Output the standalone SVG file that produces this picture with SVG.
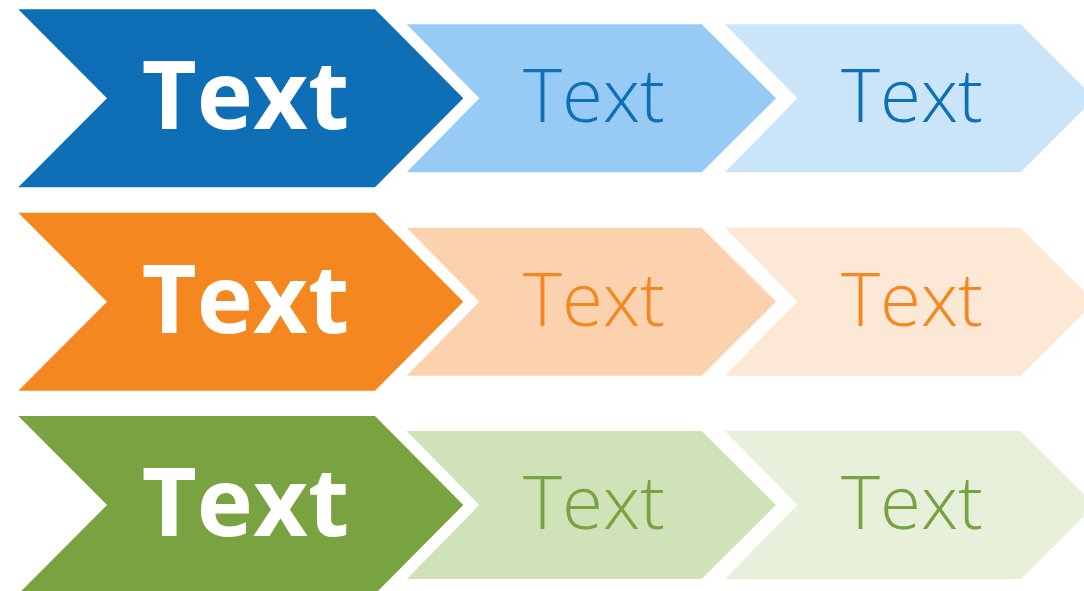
<svg xmlns="http://www.w3.org/2000/svg" width="1084" height="591" viewBox="0 0 1084 591">
<defs>
<style>
.big{font-family:"Open Sans","Noto Sans","Liberation Sans",sans-serif;font-weight:700;font-size:95px;fill:#ffffff;text-anchor:middle}
.sm{font-family:"Open Sans","Noto Sans","Liberation Sans",sans-serif;font-weight:300;font-size:74.5px;text-anchor:middle}
</style>
<path id="bigChev" d="M18.3,-89 L375,-89 L463.3,0 L375,89 L18.3,89 L107,0 Z"/>
<path id="midChev" d="M406.7,-74 L701.7,-74 L776,0 L701.7,74 L406.7,74 L479.3,0 Z"/>
<path id="lightChev" d="M725,-74 L1020.7,-74 L1094.7,0 L1020.7,74 L725,74 L797.3,0 Z"/>
</defs>
<rect width="1084" height="591" fill="#ffffff"/>
<g id="connectors"></g>
<g id="row-blue" transform="translate(0,98.3)">
<g id="blue-1"><use href="#bigChev" fill="#0E6FB7"/><text class="big" x="245.5" y="31">Text</text></g>
<g id="blue-2"><use href="#midChev" fill="#97CBF5"/><text class="sm" x="594" y="24" fill="#0E6FB7">Text</text></g>
<g id="blue-3"><use href="#lightChev" fill="#CAE5F9"/><text class="sm" x="912" y="24" fill="#0E6FB7">Text</text></g>
</g>
<g id="row-orange" transform="translate(0,301.7)">
<g id="orange-1"><use href="#bigChev" fill="#F58720"/><text class="big" x="245.5" y="31">Text</text></g>
<g id="orange-2"><use href="#midChev" fill="#FBD1AE"/><text class="sm" x="594" y="24" fill="#F58720">Text</text></g>
<g id="orange-3"><use href="#lightChev" fill="#FDE8D5"/><text class="sm" x="912" y="24" fill="#F58720">Text</text></g>
</g>
<g id="row-green" transform="translate(0,505)">
<g id="green-1"><use href="#bigChev" fill="#79A341"/><text class="big" x="245.5" y="31">Text</text></g>
<g id="green-2"><use href="#midChev" fill="#D0E3B8"/><text class="sm" x="594" y="24" fill="#79A341">Text</text></g>
<g id="green-3"><use href="#lightChev" fill="#E6F0DB"/><text class="sm" x="912" y="24" fill="#79A341">Text</text></g>
</g>
</svg>
